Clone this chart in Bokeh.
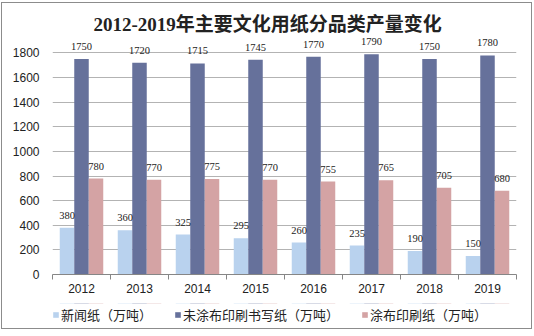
from bokeh.plotting import figure
from bokeh.layouts import column
from bokeh.models import ColumnDataSource, FixedTicker, LabelSet, Legend, LegendItem
from bokeh.transform import dodge
from bokeh.embed import file_html
from bokeh.resources import INLINE

years = ["2012", "2013", "2014", "2015", "2016", "2017", "2018", "2019"]
newsprint = [380, 360, 325, 295, 260, 235, 190, 150]
uncoated = [1750, 1720, 1715, 1745, 1770, 1790, 1750, 1780]
coated = [780, 770, 775, 770, 755, 765, 705, 680]
series_names = ["新闻纸（万吨）", "未涂布印刷书写纸（万吨）", "涂布印刷纸（万吨）"]
colors = ["#B9D2EE", "#66719B", "#D4A3A4"]
y_ticks = [0, 200, 400, 600, 800, 1000, 1200, 1400, 1600, 1800]
title_text = "2012-2019年主要文化用纸分品类产量变化"

xc = [i + 0.5 for i in range(len(years))]
src = ColumnDataSource(dict(
    x=xc, years=years,
    s0=newsprint, s1=uncoated, s2=coated,
    t0=[str(v) for v in newsprint],
    t1=[str(v) for v in uncoated],
    t2=[str(v) for v in coated],
))

p = figure(width=529, height=300, x_range=(0, len(years)), y_range=(0, 1950),
           output_backend="svg", toolbar_location=None,
           min_border_left=50, min_border_right=15, min_border_top=31, min_border_bottom=29,
           title=title_text)
p.outline_line_color = None
p.background_fill_color = "white"
p.border_fill_color = "white"

p.title.text_font = "'Liberation Serif', 'Noto Sans CJK SC'"
p.title.text_font_size = "19px"
p.title.text_font_style = "bold"
p.title.text_color = "#222222"
p.title.align = "left"
p.title.offset = 41
p.title.standoff = 0

bw = 0.25
offs = [-bw, 0.0, bw]
for k in range(3):
    p.vbar(x=dodge("x", offs[k], range=p.x_range), top="s%d" % k, width=bw,
           bottom=0, source=src, fill_color=colors[k], line_color=None)
    lbl = LabelSet(x=dodge("x", offs[k], range=p.x_range), y="s%d" % k, text="t%d" % k,
                   source=src, text_align="center", text_baseline="bottom", y_offset=9,
                   text_font_size="10.5px", text_font="Liberation Sans", text_color="#222222")
    p.add_layout(lbl)

# axes
p.xaxis.ticker = FixedTicker(ticks=xc, minor_ticks=list(range(len(years) + 1)))
p.xaxis.major_label_overrides = {x: y for x, y in zip(xc, years)}
p.xaxis.major_tick_line_color = None
p.xaxis.major_tick_out = 0
p.xaxis.major_tick_in = 0
p.xaxis.minor_tick_line_color = "#868686"
p.xaxis.minor_tick_out = 5
p.xaxis.minor_tick_in = 0
p.xaxis.axis_line_color = "#868686"
p.xaxis.major_label_standoff = 4
p.xaxis.major_label_text_font = "Liberation Sans"
p.xaxis.major_label_text_font_size = "12px"
p.xaxis.major_label_text_color = "#222222"

p.yaxis.ticker = FixedTicker(ticks=y_ticks)
p.yaxis.axis_line_color = None
p.yaxis.major_tick_line_color = None
p.yaxis.minor_tick_line_color = None
p.yaxis.major_tick_out = 0
p.yaxis.major_tick_in = 0
p.yaxis.major_label_standoff = 13
p.yaxis.major_label_text_font = "Liberation Sans"
p.yaxis.major_label_text_font_size = "12px"
p.yaxis.major_label_text_color = "#222222"

p.xgrid.grid_line_color = None
p.ygrid.grid_line_color = "#b3b3b3"
p.ygrid.ticker = FixedTicker(ticks=y_ticks)

# legend strip (separate figure below the chart; its bars fall outside its view)
pl = figure(width=529, height=25, x_range=(0, len(years)), y_range=(-2, -1),
            output_backend="svg", toolbar_location=None,
            x_axis_location=None, y_axis_location=None,
            min_border=0, min_border_left=0, min_border_right=0,
            min_border_top=0, min_border_bottom=0)
pl.outline_line_color = None
pl.xgrid.grid_line_color = None
pl.ygrid.grid_line_color = None
leg_renderers = [pl.vbar(x=dodge("x", offs[k], range=pl.x_range), top="s%d" % k, width=bw,
                         bottom=0, source=src, fill_color=colors[k], line_color=None)
                 for k in range(3)]
legend = Legend(items=[LegendItem(label=series_names[k], renderers=[leg_renderers[k]]) for k in range(3)],
                orientation="horizontal", location=(0, 4),
                glyph_width=7, glyph_height=7, label_standoff=2, spacing=22,
                padding=0, margin=0, border_line_color=None, background_fill_alpha=0,
                label_text_font="Noto Sans CJK SC", label_text_font_size="13px",
                label_text_color="#222222", label_height=14)
pl.add_layout(legend)

layout = column(p, pl, spacing=0,
                styles={"border": "1px solid #8c8c8c", "margin-left": "1px", "margin-top": "2px"})

open("out.html", "w").write(file_html(layout, INLINE))
